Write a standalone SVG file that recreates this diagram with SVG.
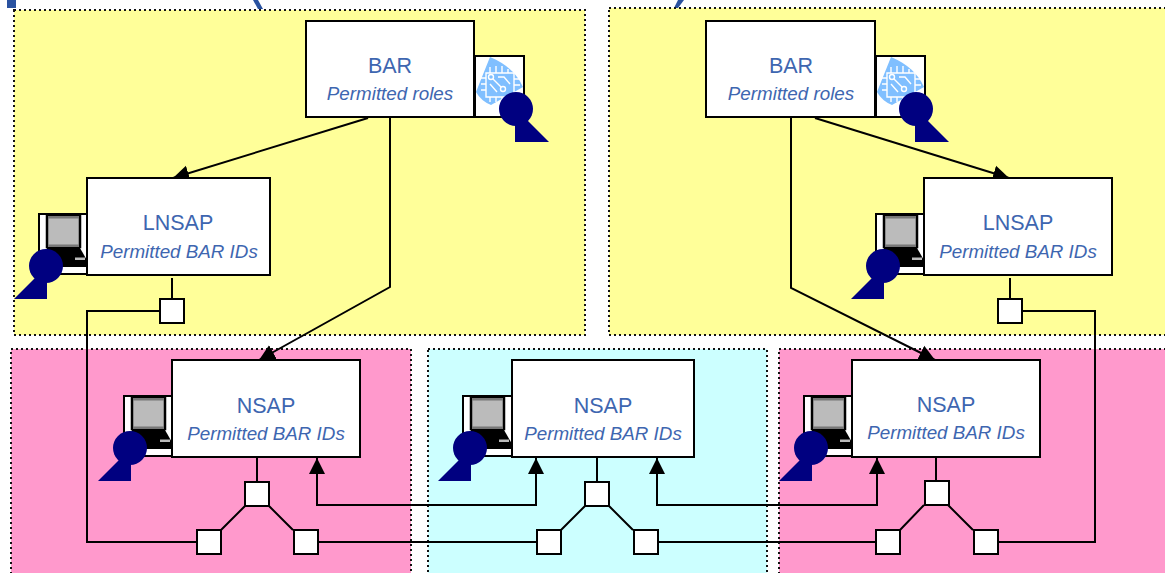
<svg xmlns="http://www.w3.org/2000/svg" width="1165" height="573" viewBox="0 0 1165 573">
<style>
.zone{stroke:#111;stroke-width:2;stroke-dasharray:2 3}
.y{fill:#ffff99}.p{fill:#ff99cc}.c{fill:#ccffff}
.box{fill:#fff;stroke:#000;stroke-width:2}
.port{fill:#fff;stroke:#000;stroke-width:2}
.line{fill:none;stroke:#000;stroke-width:2}
.t{font-family:"Liberation Sans",Arial,sans-serif;fill:#3e66b0;text-anchor:middle}
.n{font-size:21.5px}
.i{font-size:18.8px;font-style:italic}
.key{fill:#000080}
.frame{fill:#fff;stroke:#000;stroke-width:2}
</style>
<defs>
<marker id="a" markerUnits="userSpaceOnUse" markerWidth="17" markerHeight="18" refX="16" refY="9" orient="auto"><path d="M0 1L16 9L0 17Z" fill="#000"/></marker>
<g id="pc">
<rect class="frame" x="0" y="0" width="49" height="60"/>
<rect x="8" y="2" width="33" height="31" fill="#bbb" stroke="#000" stroke-width="2.500"/>
<rect x="9" y="2" width="31" height="2.500" fill="#777"/>
<rect x="9" y="30.500" width="31" height="2.500" fill="#777"/>
<path d="M8 34H41L49 48V51H2Z" fill="#000"/>
<rect x="36" y="43.500" width="10" height="2.500" fill="#bbb"/>
<path d="M0 52H49" stroke="#000" stroke-width="2"/>
</g>
<g id="keyL"><circle cx="32" cy="17" r="17" class="key"/><path d="M0 50L21 29L33 30V50Z" class="key"/></g>
<g id="keyR"><circle cx="17" cy="17" r="17" class="key"/><path d="M16 50H50L28 28L16 30Z" class="key"/></g>
<g id="chip">
<path d="M0 35L14 0Q38 10 47 30L15 48Q5 44 0 35Z" fill="#80bfff"/>
<g fill="none" stroke="#fff" stroke-width="1.400">
<path d="M10 16H38V40H10Z"/>
<path d="M14 10V16M20 9V16M26 9V16M32 12V16M5 21H10M5 27H10M5 33H10M38 22H43M38 28H44M14 40V45M20 40V45M26 40V45"/>
<path d="M17 22L25 30M14 27L21 35M22 20H28L34 27"/>
<circle cx="15" cy="20" r="2.500"/><circle cx="27" cy="32" r="2.500"/>
</g>
</g>
</defs>
<path d="M7 0H16V8H7Z" fill="#2a52a0"/>
<path d="M253 0H258L263 9H258Z" fill="#2a52a0"/>
<path d="M678 0H684L678 8H674Z" fill="#2a52a0"/>
<rect class="zone y" x="14" y="10" width="571" height="325"/>
<rect class="zone y" x="609" y="8" width="560" height="327"/>
<rect class="zone p" x="11" y="349" width="400" height="230"/>
<rect class="zone c" x="428" y="349" width="339" height="230"/>
<rect class="zone p" x="779" y="349" width="390" height="230"/>

<g id="connectors">
<path class="line" marker-end="url(#a)" d="M368 118L173 178"/>
<path class="line" marker-end="url(#a)" d="M390 118V287L259 360"/>
<path class="line" marker-end="url(#a)" d="M815 118L1009 178"/>
<path class="line" marker-end="url(#a)" d="M791 118V288L935 360"/>
<path class="line" d="M172 278V311M1010 278V311"/>
<path class="line" d="M160 311H87V542H196"/>
<path class="line" d="M1022 311H1095V542H998"/>
<path class="line" d="M257 458V482M597 458V482M936 458V481"/>
<path class="line" d="M245 506L221 530M269 506L293 530M585 506L561 530M609 506L633 530M924 505L900 530M948 505L973 530"/>
<path class="line" d="M318 542H536M658 542H876"/>
<path class="line" marker-end="url(#a)" d="M536 505H317V458"/>
<path class="line" marker-end="url(#a)" d="M317 505H536V458"/>
<path class="line" marker-end="url(#a)" d="M876 505H657V458"/>
<path class="line" marker-end="url(#a)" d="M657 505H877V458"/>
</g>

<g id="bar-left">
<rect class="frame" x="475" y="56" width="49" height="61"/>
<use href="#chip" x="476" y="57"/>
<use href="#keyR" x="499" y="92"/>
<rect class="box" x="306" y="21" width="168" height="96"/>
<text class="t n" x="390" y="73">BAR</text>
<text class="t i" x="390" y="100">Permitted roles</text>
</g>
<g id="bar-right">
<rect class="frame" x="876" y="56" width="49" height="61"/>
<use href="#chip" x="877" y="57"/>
<use href="#keyR" x="899" y="92"/>
<rect class="box" x="706" y="21" width="169" height="96"/>
<text class="t n" x="791" y="73">BAR</text>
<text class="t i" x="791" y="100">Permitted roles</text>
</g>
<g id="lnsap-left">
<use href="#pc" x="39" y="214"/>
<use href="#keyL" x="14" y="249"/>
<rect class="box" x="87" y="178" width="183" height="97"/>
<text class="t n" x="178" y="230">LNSAP</text>
<text class="t i" x="179" y="258">Permitted BAR IDs</text>
</g>
<g id="lnsap-right">
<use href="#pc" x="876" y="214"/>
<use href="#keyL" x="851" y="249"/>
<rect class="box" x="924" y="178" width="188" height="97"/>
<text class="t n" x="1018" y="230">LNSAP</text>
<text class="t i" x="1018" y="258">Permitted BAR IDs</text>
</g>
<g id="nsap-1">
<use href="#pc" x="124" y="396"/>
<use href="#keyL" x="98" y="431"/>
<rect class="box" x="172" y="360" width="188" height="97"/>
<text class="t n" x="266" y="413">NSAP</text>
<text class="t i" x="266" y="440">Permitted BAR IDs</text>
</g>
<g id="nsap-2">
<use href="#pc" x="463" y="396"/>
<use href="#keyL" x="438" y="431"/>
<rect class="box" x="512" y="360" width="182" height="97"/>
<text class="t n" x="603" y="413">NSAP</text>
<text class="t i" x="603" y="440">Permitted BAR IDs</text>
</g>
<g id="nsap-3">
<use href="#pc" x="804" y="396"/>
<use href="#keyL" x="779" y="431"/>
<rect class="box" x="852" y="360" width="188" height="97"/>
<text class="t n" x="946" y="412">NSAP</text>
<text class="t i" x="946" y="439">Permitted BAR IDs</text>
</g>
<g id="ports">
<rect class="port" x="160" y="299" width="24" height="24"/>
<rect class="port" x="998" y="299" width="24" height="24"/>
<rect class="port" x="245" y="482" width="24" height="24"/>
<rect class="port" x="197" y="530" width="24" height="24"/>
<rect class="port" x="294" y="530" width="24" height="24"/>
<rect class="port" x="585" y="482" width="24" height="24"/>
<rect class="port" x="537" y="530" width="24" height="24"/>
<rect class="port" x="634" y="530" width="24" height="24"/>
<rect class="port" x="925" y="481" width="24" height="24"/>
<rect class="port" x="876" y="530" width="24" height="24"/>
<rect class="port" x="974" y="530" width="24" height="24"/>
</g>
</svg>
